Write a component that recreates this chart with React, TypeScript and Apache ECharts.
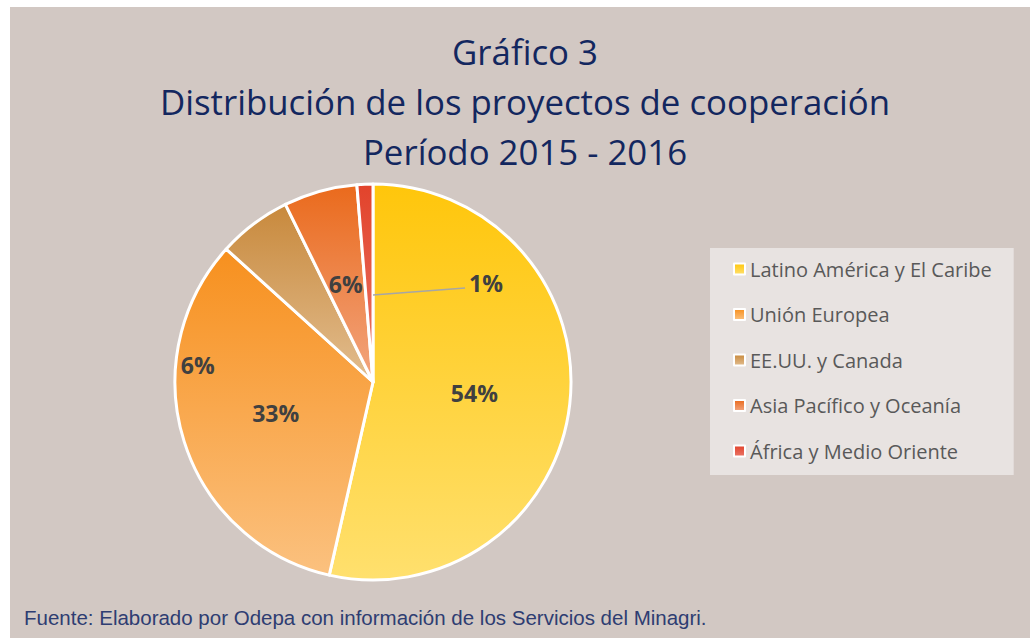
import React, { useEffect, useRef } from "react";
import * as echarts from "echarts";

const categories = [
  "Latino América y El Caribe",
  "Unión Europea",
  "EE.UU. y Canada",
  "Asia Pacífico y Oceanía",
  "África y Medio Oriente",
];
const shares = [53.6, 33.2, 6.0, 6.0, 1.3];
const topColors = ["#FFC60B", "#F7901E", "#C8893C", "#EA6A1C", "#E2432B"];
const bottomColors = ["#FFE06E", "#FBC17F", "#E2BD8F", "#F2A57F", "#EA7567"];
const titleLines = ["Gráfico 3", "Distribución de los proyectos de cooperación", "Período 2015 - 2016"];
const sourceNote = "Fuente: Elaborado por Odepa con información de los Servicios del Minagri.";

const CX = 363;
const CY = 375;
const R = 198;
const FONT = "'Open Sans', Lato, sans-serif";

// leader line of the small slice's label (relative to pie centre / radius)
const LEAD_START = [0, -0.44];
const LEAD_END = [0.465, -0.475];

export default function App() {
  const ref = useRef<HTMLDivElement>(null);
  useEffect(() => {
    if (!ref.current) return;
    const chart = echarts.init(ref.current, null, { renderer: "svg" });
    const total = shares.reduce((a, b) => a + b, 0);
    const data = categories.map((name, i) => ({
      name,
      value: shares[i],
      itemStyle: {
        color: new echarts.graphic.LinearGradient(0, 0, 0, 1, [
          { offset: 0, color: topColors[i] },
          { offset: 1, color: bottomColors[i] },
        ]),
      },
    }));
    const sx = CX + R * LEAD_START[0];
    const sy = CY + R * LEAD_START[1];
    const ex = CX + R * LEAD_END[0];
    const ey = CY + R * LEAD_END[1];
    chart.setOption({
      animation: false,
      backgroundColor: "#D2C8C3",
      title: {
        text: titleLines.join("\n"),
        left: 510,
        top: 14,
        textAlign: "center",
        textStyle: {
          fontFamily: FONT,
          fontSize: 34.8,
          fontWeight: "normal",
          color: "#13275F",
          lineHeight: 50,
        },
      },
      legend: {
        orient: "vertical",
        left: 700,
        top: 241,
        padding: [11, 22, 14, 23],
        backgroundColor: "#E8E3E1",
        itemWidth: 11,
        itemHeight: 11,
        itemGap: 25.5,
        icon: "rect",
        itemStyle: { borderColor: "#FFFFFF", borderWidth: 2 },
        textStyle: { fontFamily: FONT, fontSize: 20, color: "#595959", lineHeight: 20 },
        data: categories,
      },
      graphic: [
        {
          type: "polyline",
          silent: true,
          z: 100,
          shape: { points: [[sx, sy], [ex, ey]] },
          style: { stroke: "#A6A6A6", lineWidth: 1.5, fill: null },
        },
        {
          type: "text",
          left: 14,
          top: 600,
          style: {
            text: sourceNote,
            font: "20.5px 'Liberation Sans', Arial, sans-serif",
            fill: "#2E3D72",
          },
        },
      ],
      series: [
        {
          type: "pie",
          center: [CX, CY],
          radius: R,
          startAngle: 90,
          clockwise: true,
          avoidLabelOverlap: false,
          itemStyle: { borderColor: "#FFFFFF", borderWidth: 3 },
          label: {
            position: "inside",
            fontFamily: FONT,
            fontSize: 23,
            fontWeight: "bold",
            color: "#404040",
            formatter: (p: any) => Math.round((p.value / total) * 100) + "%",
          },
          labelLine: { show: false },
          emphasis: { disabled: true },
          labelLayout: (p: any) => {
            if (p.dataIndex === 2) {
              return { x: CX - R * 0.885, y: CY - R * 0.085, align: "center", verticalAlign: "middle" };
            }
            if (p.dataIndex === 4) {
              return { x: ex + 4, y: ey - 5, align: "left", verticalAlign: "middle" };
            }
            return {};
          },
          data,
        },
      ],
    });
    return () => chart.dispose();
  }, []);
  return (
    <div
      ref={ref}
      style={{ position: "absolute", left: 10, top: 7, width: 1020, height: 631 }}
    />
  );
}
